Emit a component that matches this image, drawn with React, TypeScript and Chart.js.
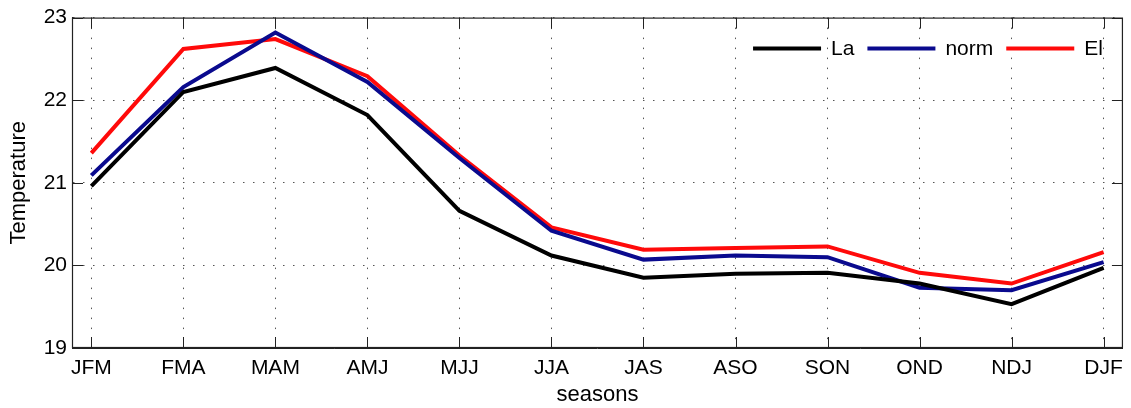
import React, { useEffect, useRef } from 'react';
import { Chart, registerables } from 'chart.js';

Chart.register(...registerables);

const seasons = ['JFM', 'FMA', 'MAM', 'AMJ', 'MJJ', 'JJA', 'JAS', 'ASO', 'SON', 'OND', 'NDJ', 'DJF'];
const laValues = [20.96, 22.10, 22.39, 21.82, 20.66, 20.12, 19.85, 19.90, 19.91, 19.78, 19.53, 19.97];
const normValues = [21.09, 22.16, 22.82, 22.22, 21.30, 20.42, 20.07, 20.12, 20.10, 19.73, 19.70, 20.04];
const elValues = [21.36, 22.62, 22.74, 22.29, 21.33, 20.46, 20.19, 20.21, 20.23, 19.91, 19.78, 20.16];
const yTicks = [19, 20, 21, 22, 23];
const seriesNames = ['La', 'norm', 'El'];
const seriesColors = ['#000000', '#0a0a8e', '#ff0a0a'];

const FONT = "'Liberation Sans', Arial, Helvetica, sans-serif";

const boxPlugin = {
  id: 'matlabBox',
  afterDatasetsDraw(chart: any) {
    const { ctx, chartArea } = chart;
    const { left, right, top, bottom } = chartArea;
    const xs = chart.scales.x;
    const ys = chart.scales.y;
    const tl = 11;
    ctx.save();
    ctx.strokeStyle = '#222222';
    ctx.lineWidth = 1;
    ctx.setLineDash([]);
    ctx.beginPath();
    seasons.forEach((_, i) => {
      const px = Math.round(xs.getPixelForValue(i)) + 0.5;
      ctx.moveTo(px, bottom);
      ctx.lineTo(px, bottom - tl);
      ctx.moveTo(px, top);
      ctx.lineTo(px, top + tl);
    });
    yTicks.forEach((v) => {
      const py = Math.round(ys.getPixelForValue(v)) + 0.5;
      ctx.moveTo(left, py);
      ctx.lineTo(left + tl, py);
      ctx.moveTo(right, py);
      ctx.lineTo(right - tl, py);
    });
    ctx.stroke();
    ctx.lineWidth = 1.2;
    ctx.strokeRect(left + 0.5, top + 0.5, right - left - 1, bottom - top - 1);
    ctx.restore();
  },
};

const legendPlugin = {
  id: 'insideLegend',
  afterDraw(chart: any) {
    const { ctx, chartArea } = chart;
    const lineLen = 68;
    const gapLineText = 10;
    const gapItems = 13;
    const yMid = chartArea.top + 31;
    ctx.save();
    ctx.font = `21px ${FONT}`;
    ctx.textBaseline = 'middle';
    ctx.textAlign = 'left';
    let x = chartArea.right - 20;
    const ds = chart.data.datasets;
    for (let i = ds.length - 1; i >= 0; i--) {
      const label = ds[i].label;
      const w = ctx.measureText(label).width;
      const textX = x - w;
      const lineEnd = textX - gapLineText;
      const lineStart = lineEnd - lineLen;
      ctx.fillStyle = '#000';
      ctx.fillText(label, textX, yMid + 1);
      ctx.strokeStyle = ds[i].borderColor;
      ctx.lineWidth = 4;
      ctx.setLineDash([]);
      ctx.beginPath();
      ctx.moveTo(lineStart, yMid);
      ctx.lineTo(lineEnd, yMid);
      ctx.stroke();
      x = lineStart - gapItems;
    }
    ctx.restore();
  },
};

export default function App() {
  const canvasRef = useRef<HTMLCanvasElement | null>(null);

  useEffect(() => {
    const canvas = canvasRef.current;
    if (!canvas) return;
    const series = [laValues, normValues, elValues];
    const chart = new Chart(canvas, {
      type: 'line',
      data: {
        datasets: series.map((vals, k) => ({
          label: seriesNames[k],
          data: vals.map((v, i) => ({ x: i, y: v })),
          borderColor: seriesColors[k],
          backgroundColor: seriesColors[k],
          borderWidth: 4,
          pointRadius: 0,
          tension: 0,
          fill: false,
        })),
      },
      options: {
        animation: false,
        responsive: true,
        maintainAspectRatio: false,
        layout: { padding: { left: 0, right: 8, top: 15, bottom: 0 } },
        plugins: {
          legend: { display: false },
          tooltip: { enabled: false },
        },
        scales: {
          x: {
            type: 'linear',
            min: -0.21,
            max: 11.21,
            afterBuildTicks: (scale: any) => {
              scale.ticks = seasons.map((_, i) => ({ value: i }));
            },
            afterFit: (scale: any) => {
              scale.height = 60;
            },
            ticks: {
              autoSkip: false,
              maxRotation: 0,
              padding: 8,
              color: '#000',
              font: { family: FONT, size: 21 },
              callback: (v: any) => seasons[Math.round(Number(v))] ?? '',
            },
            grid: {
              drawTicks: false,
              color: '#555555',
              lineWidth: 1,
            },
            border: { display: true, color: '#222', width: 1, dash: [1.5, 8.5] },
            title: {
              display: true,
              text: 'seasons',
              color: '#000',
              font: { family: FONT, size: 22 },
              padding: { top: 0, bottom: 0 },
            },
          },
          y: {
            min: 19,
            max: 23,
            afterBuildTicks: (scale: any) => {
              scale.ticks = yTicks.map((v) => ({ value: v }));
            },
            afterFit: (scale: any) => {
              scale.width = 72;
            },
            ticks: {
              padding: 5,
              color: '#000',
              font: { family: FONT, size: 21 },
              callback: (v: any) => String(v),
            },
            grid: {
              drawTicks: false,
              color: '#555555',
              lineWidth: 1,
            },
            border: { display: true, color: '#222', width: 1, dash: [1.5, 8.5] },
            title: {
              display: true,
              text: 'Temperature',
              color: '#000',
              font: { family: FONT, size: 22 },
              padding: { top: 6, bottom: 0 },
            },
          },
        },
      },
      plugins: [boxPlugin, legendPlugin],
    });
    return () => chart.destroy();
  }, []);

  return (
    <div style={{ position: 'absolute', left: 0, top: 0, width: 1131, height: 408, background: '#fff' }}>
      <canvas ref={canvasRef} />
    </div>
  );
}
